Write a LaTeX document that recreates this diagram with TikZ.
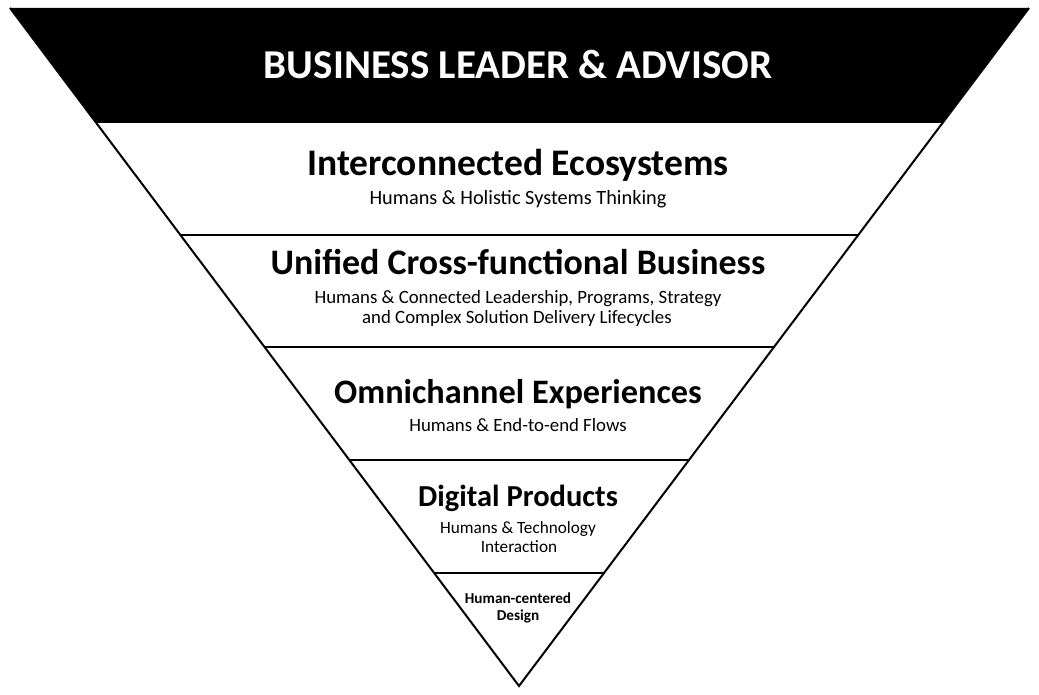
\documentclass[tikz,border=0pt]{standalone}
\usepackage{fontspec}
\setmainfont{Carlito}
\usetikzlibrary{calc}
\begin{document}
\begin{tikzpicture}[x=1pt,y=-1pt,
  edge/.style={line width=2pt,line join=miter},
  divider/.style={line width=2.8pt},
  txt/.style={anchor=base,inner sep=0pt,align=center},
  banner/.style={txt,font=\bfseries\fontsize{41}{44}\selectfont,text=white},
  heading/.style={txt,font=\bfseries\fontsize{#1}{#1}\selectfont},
  sub/.style={txt,font=\fontsize{#1}{#1}\selectfont},
  subsm/.style={txt,font=\bfseries\fontsize{15.2}{17}\selectfont}]
\useasboundingbox (0,0) rectangle (1039,695);
\coordinate (tl) at (10,8);
\coordinate (tr) at (1029,8);
\coordinate (ap) at (519,686);
% divider end points
\coordinate (l1) at ($(tl)!0.1696!(ap)$);
\coordinate (r1) at ($(tr)!0.1696!(ap)$);
\coordinate (l2) at ($(tl)!0.3348!(ap)$);
\coordinate (r2) at ($(tr)!0.3348!(ap)$);
\coordinate (l3) at ($(tl)!0.5!(ap)$);
\coordinate (r3) at ($(tr)!0.5!(ap)$);
\coordinate (l4) at ($(tl)!0.6667!(ap)$);
\coordinate (r4) at ($(tr)!0.6667!(ap)$);
\coordinate (l5) at ($(tl)!0.8333!(ap)$);
\coordinate (r5) at ($(tr)!0.8333!(ap)$);
% black band
\fill[black] (tl) -- (tr) -- (r1) -- (l1) -- cycle;
% outline
\draw[edge] (tl) -- (ap) -- (tr);
\draw[divider] (l2) -- (r2);
\draw[divider] (l3) -- (r3);
\draw[divider] (l4) -- (r4);
\draw[divider] (l5) -- (r5);
% texts
\node[banner] (t0) at (518,79) {BUSINESS LEADER \& ADVISOR};
\node[heading=37.5] (h1) at (518,176) {Interconnected Ecosystems};
\node[sub=20.3] (s1) at (518,205) {Humans \& Holistic Systems Thinking};
\node[heading=35.9] (h2) at (518,274) {Unified Cross-functional Business};
\node[sub=18.8] (s2a) at (518,303) {Humans \& Connected Leadership, Programs, Strategy};
\node[sub=18.8] (s2b) at (517,323) {and Complex Solution Delivery Lifecycles};
\node[heading=34.3] (h3) at (518,403) {Omnichannel Experiences};
\node[sub=18.8] (s3) at (518,431) {Humans \& End-to-end Flows};
\node[heading=30.5] (h4) at (518,506) {Digital Products};
\node[sub=17.2] (s4a) at (518,533) {Humans \& Technology};
\node[sub=17.2] (s4b) at (519,552) {Interaction};
\node[subsm] (h5a) at (518,603) {Human-centered};
\node[subsm] (h5b) at (518,620) {Design};
\end{tikzpicture}
\end{document}
